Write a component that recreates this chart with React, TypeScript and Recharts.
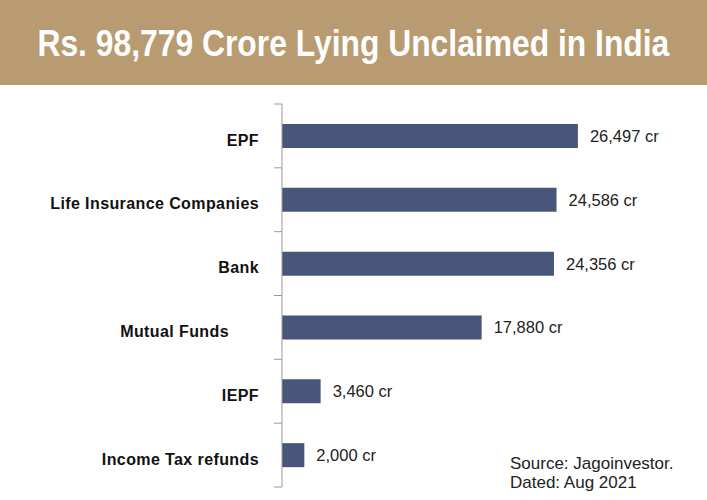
import React from 'react';
import { BarChart, Bar, XAxis, YAxis, LabelList } from 'recharts';

const categories = ['EPF', 'Life Insurance Companies', 'Bank', 'Mutual Funds', 'IEPF', 'Income Tax refunds'];
const amounts = [26497, 24586, 24356, 17880, 3460, 2000];
const valueLabels = ['26,497 cr', '24,586 cr', '24,356 cr', '17,880 cr', '3,460 cr', '2,000 cr'];

const data = categories.map((name, i) => ({ name, value: amounts[i], label: valueLabels[i] }));

const BAND_HALF = 383 / 12;

const CategoryTick = (props: any) => {
  const { x, y, payload, index, visibleTicksCount } = props;
  // the source nudges this one label left
  const shift = payload.value === 'Mutual Funds' ? -30 : 0;
  const axisX = x + 23;
  return (
    <g>
      {/* tick marks sit on band edges, not centres */}
      <line x1={axisX - 8} x2={axisX} y1={y - BAND_HALF} y2={y - BAND_HALF} stroke="#9a9a9a" />
      {index === visibleTicksCount - 1 && (
        <line x1={axisX - 8} x2={axisX} y1={y + BAND_HALF} y2={y + BAND_HALF} stroke="#9a9a9a" />
      )}
      <text
        x={x + shift}
        y={y + 4}
        dy="0.355em"
        textAnchor="end"
        fill="#111"
        fontSize={16}
        fontWeight={700}
        letterSpacing={0.4}
        fontFamily="Liberation Sans, Arial, sans-serif"
      >
        {payload.value}
      </text>
    </g>
  );
};

const App: React.FC = () => {
  return (
    <div style={{ position: 'absolute', left: 0, top: 0, width: 707, height: 500, background: '#fff', fontFamily: 'Liberation Sans, Arial, sans-serif' }}>
      <div
        style={{
          height: 85,
          background: '#B89B71',
          color: '#fff',
          display: 'flex',
          alignItems: 'center',
          justifyContent: 'center',
          fontWeight: 700,
          fontSize: 37,
          whiteSpace: 'nowrap',
          overflow: 'hidden',
        }}
      >
        <span style={{ display: 'inline-block', transform: 'scaleX(0.86)', marginTop: 2 }}>
          Rs. 98,779 Crore Lying Unclaimed in India
        </span>
      </div>

      <div style={{ position: 'absolute', left: 0, top: 85 }}>
        <BarChart
          width={707}
          height={415}
          data={data}
          layout="vertical"
          margin={{ top: 19, right: 90, left: 0, bottom: 13 }}
          barSize={24}
        >
          <XAxis type="number" domain={[0, 30000]} hide />
          <YAxis
            type="category"
            dataKey="name"
            width={282}
            axisLine={{ stroke: '#9a9a9a' }}
            tickLine={{ stroke: 'transparent' }}
            tickSize={8}
            tickMargin={15}
            tick={<CategoryTick />}
            interval={0}
          />
          <Bar dataKey="value" fill="#47567A" isAnimationActive={false}>
            <LabelList
              dataKey="label"
              position="right"
              offset={12}
              fill="#222"
              fontSize={16.5}
              fontFamily="Liberation Sans, Arial, sans-serif"
            />
          </Bar>
        </BarChart>
      </div>

      <div style={{ position: 'absolute', left: 510, top: 454, fontSize: 17, lineHeight: '19px', color: '#222' }}>
        <div>Source: Jagoinvestor.</div>
        <div>Dated: Aug 2021</div>
      </div>
    </div>
  );
};

export default App;
